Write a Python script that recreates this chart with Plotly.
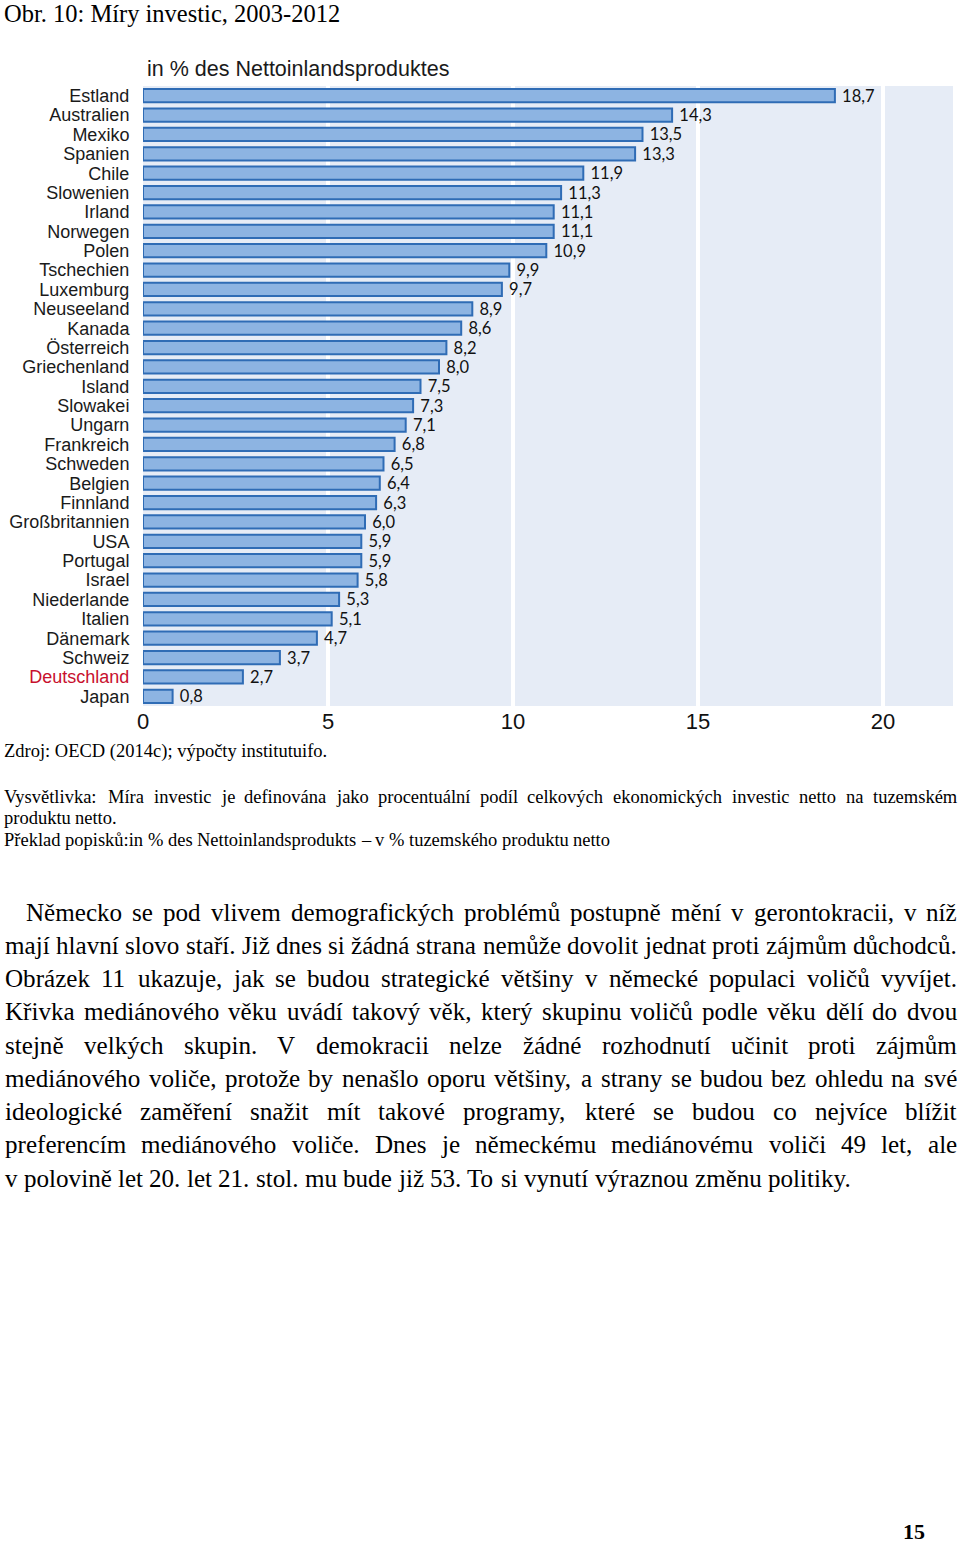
import unicodedata
import plotly.graph_objects as go

# ---------------- data ----------------
countries = ["Estland", "Australien", "Mexiko", "Spanien", "Chile", "Slowenien", "Irland",
             "Norwegen", "Polen", "Tschechien", "Luxemburg", "Neuseeland", "Kanada",
             "Österreich", "Griechenland", "Island", "Slowakei", "Ungarn", "Frankreich",
             "Schweden", "Belgien", "Finnland", "Großbritannien", "USA", "Portugal", "Israel",
             "Niederlande", "Italien", "Dänemark", "Schweiz", "Deutschland", "Japan"]
values = [18.7, 14.3, 13.5, 13.3, 11.9, 11.3, 11.1, 11.1, 10.9, 9.9, 9.7, 8.9, 8.6,
          8.2, 8.0, 7.5, 7.3, 7.1, 6.8, 6.5, 6.4, 6.3, 6.0, 5.9, 5.9, 5.8,
          5.3, 5.1, 4.7, 3.7, 2.7, 0.8]
highlight = "Deutschland"
x_ticks = [0, 5, 10, 15, 20]

chart_title = "in % des Nettoinlandsproduktes"
fig_caption = "Obr. 10: Míry investic, 2003-2012"
source_text = "Zdroj: OECD (2014c); výpočty institutuifo."
note_lines = [
    "Vysvětlivka: Míra investic je definována jako procentuální podíl celkových ekonomických investic netto na tuzemském",
    "produktu netto.",
    "Překlad popisků:in % des Nettoinlandsprodukts – v % tuzemského produktu netto",
]
body_lines = [
    "Německo se pod vlivem demografických problémů postupně mění v gerontokracii, v níž",
    "mají hlavní slovo staří. Již dnes si žádná strana nemůže dovolit jednat proti zájmům důchodců.",
    "Obrázek 11 ukazuje, jak se budou strategické většiny v německé populaci voličů vyvíjet.",
    "Křivka mediánového věku uvádí takový věk, který skupinu voličů podle věku dělí do dvou",
    "stejně velkých skupin. V demokracii nelze žádné rozhodnutí učinit proti zájmům",
    "mediánového voliče, protože by nenašlo oporu většiny, a strany se budou bez ohledu na své",
    "ideologické zaměření snažit mít takové programy, které se budou co nejvíce blížit",
    "preferencím mediánového voliče. Dnes je německému mediánovému voliči 49 let, ale",
    "v polovině let 20. let 21. stol. mu bude již 53. To si vynutí výraznou změnu politiky.",
]
page_number = "15"

# ---------------- layout geometry (page pixels) ----------------
FIG_W, FIG_H = 960, 1544
PL, PR, PT, PB = 143, 953, 86, 706   # plot area
PW, PH = PR - PL, PB - PT

def px(x):
    return (x - PL) / PW

def py(y):
    return (PB - y) / PH

# Times New Roman advance widths (per 1000 em)
TW = {" ": 250, "%": 833, "(": 333, ")": 333, ",": 250, "-": 333, ".": 250, ":": 278, ";": 278,
      "–": 500,
      "A": 722, "B": 667, "C": 667, "D": 722, "E": 611, "F": 556, "G": 722, "H": 722, "I": 333,
      "J": 389, "K": 722, "L": 611, "M": 889, "N": 722, "O": 722, "P": 556, "Q": 722, "R": 667,
      "S": 556, "T": 611, "U": 722, "V": 722, "W": 944, "X": 722, "Y": 722, "Z": 611,
      "a": 444, "b": 500, "c": 444, "d": 500, "e": 444, "f": 333, "g": 500, "h": 500, "i": 278,
      "j": 278, "k": 500, "l": 278, "m": 778, "n": 500, "o": 500, "p": 500, "q": 500, "r": 333,
      "s": 389, "t": 278, "u": 500, "v": 500, "w": 722, "x": 500, "y": 500, "z": 444}

def em(s):
    tot = 0
    for ch in s:
        if ch.isdigit():
            tot += 500
            continue
        base = unicodedata.normalize("NFD", ch)[0]
        tot += TW.get(base, 500)
    return tot / 1000.0

SERIF = "Liberation Serif"
annotations = []

def text_at(s, x, y, size, anchor="left", bold=False, family=SERIF, color="#000"):
    annotations.append(dict(
        text=("<b>%s</b>" % s) if bold else s, x=px(x), y=py(y), xref="paper", yref="paper",
        xanchor=anchor, yanchor="middle", showarrow=False, borderpad=0,
        font=dict(family=family, size=size, color=color)))

def line_at(s, x0, x1, y, size, justify=True):
    words = s.split(" ")
    widths = [em(w) * size for w in words]
    if justify and len(words) > 1:
        gap = (x1 - x0 - sum(widths)) / (len(words) - 1)
    else:
        gap = em(" ") * size
    x = x0
    for w, wd in zip(words, widths):
        text_at(w, x, y, size)
        x += wd + gap

# captions
text_at(fig_caption, 3, 14, 24.5)
text_at(source_text, 3, 751, 18.5)
line_at(note_lines[0], 3, 956, 797, 18.5, justify=True)
line_at(note_lines[1], 3, 956, 818, 18.5, justify=False)
line_at(note_lines[2], 3, 956, 840, 18.5, justify=False)

body_size = round(952 / em(body_lines[1]), 1)
body_y0, body_dy = 912, 33.25
for i, ln in enumerate(body_lines):
    x0 = 25 if i == 0 else 4
    last = i == len(body_lines) - 1
    line_at(ln, x0, 956, body_y0 + i * body_dy, body_size, justify=not last)

text_at(page_number, 914, 1531, 22, anchor="center", bold=True)

# chart title
annotations.append(dict(text=chart_title, x=px(145), y=py(69), xref="paper", yref="paper",
                        xanchor="left", yanchor="middle", showarrow=False,
                        font=dict(family="Liberation Sans", size=21.5, color="#1a1a1a")))

# ---------------- chart ----------------
ticktext = [("<span style='color:#c8102e'>%s</span>" % c) if c == highlight else c
            for c in countries]

fig = go.Figure(go.Bar(
    x=values, y=countries, orientation="h", width=0.68,
    marker=dict(color="#8db4e2", line=dict(color="#2f6cb5", width=2)),
    texttemplate=" %{x:.1f}", textposition="outside", cliponaxis=False,
    constraintext="none",
    textfont=dict(family="Lato", size=16.5, color="#111"),
    hoverinfo="skip",
))

fig.update_layout(
    width=FIG_W, height=FIG_H,
    margin=dict(l=PL, r=FIG_W - PR, t=PT, b=FIG_H - PB, pad=0),
    paper_bgcolor="white", plot_bgcolor="#e6ecf6",
    separators=", ",
    showlegend=False,
    annotations=annotations,
    xaxis=dict(range=[0, PW / 37.0], tickvals=x_ticks, ticktext=[str(t) for t in x_ticks],
               showgrid=True, gridcolor="white", gridwidth=4, zeroline=False,
               ticks="", ticklen=0,
               tickfont=dict(family="Liberation Sans", size=22, color="#111"),
               showline=False, fixedrange=True),
    yaxis=dict(categoryorder="array", categoryarray=countries,
               range=[len(countries) - 0.5, -0.5],
               tickvals=countries, ticktext=ticktext,
               ticks="outside", ticklen=9, tickcolor="rgba(0,0,0,0)",
               tickfont=dict(family="Liberation Sans", size=18, color="#1a1a1a"),
               showgrid=False, zeroline=False, showline=False, fixedrange=True),
)

page_css = ("document.documentElement.style.margin='0';document.documentElement.style.overflow='hidden';"
            "document.body.style.margin='0';document.body.style.padding='0';"
            "document.body.style.overflow='hidden';")
fig.write_html("out.html", post_script=page_css, config={"displayModeBar": False})
